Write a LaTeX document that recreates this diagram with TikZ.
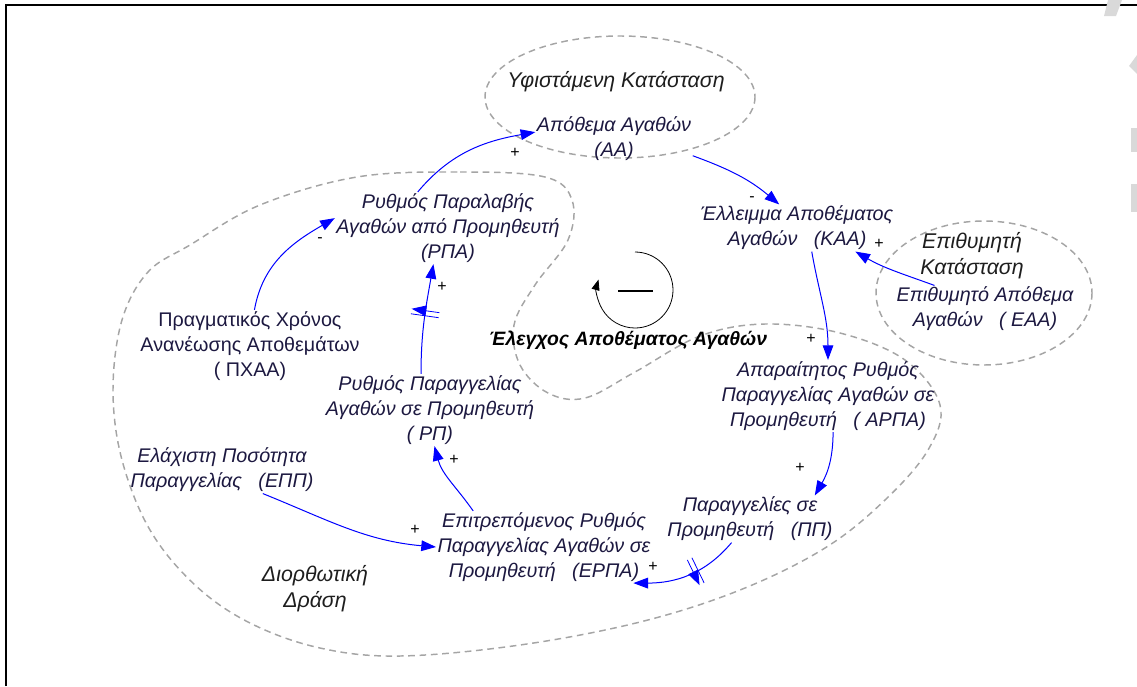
\documentclass[tikz,border=0pt]{standalone}
\usepackage{fontspec}
\setmainfont{Liberation Sans}
\usetikzlibrary{arrows.meta,decorations.markings}

\definecolor{varcol}{RGB}{28,24,64}
\definecolor{grpcol}{RGB}{30,30,30}
\definecolor{areacol}{RGB}{165,165,165}

\begin{document}
\begin{tikzpicture}[
  x=0.75pt, y=-0.75pt,
  var/.style={align=center, inner sep=1pt, text=varcol,
    font=\fontsize{14.8}{18.75}\selectfont\itshape},
  varup/.style={var, font=\fontsize{14.8}{18.75}\selectfont},
  grp/.style={align=center, inner sep=1pt, text=grpcol,
    font=\fontsize{16}{19.5}\selectfont\itshape},
  loopname/.style={grp, text=black, font=\fontsize{14.5}{18}\selectfont\bfseries\itshape},
  area/.style={draw=areacol, line width=1.1pt, dash pattern=on 5pt off 3.5pt},
  link/.style={blue, line width=0.75pt, -{Triangle[length=11pt,width=8pt]}},
  pol/.style={inner sep=0pt, font=\fontsize{12}{12}\selectfont},
  delay/.style={postaction={decorate, decoration={markings,
    mark=at position #1 with {\draw[blue, line width=0.6pt]
      (-1.9pt,-10.5pt) -- (-1.9pt,10.5pt) (1.9pt,-10.5pt) -- (1.9pt,10.5pt);}}}},
]
\useasboundingbox (0,0) rectangle (1137,686);

% frame and screen marks
\draw[line width=2.2pt] (6,686) -- (6,5) -- (1137,5);
\fill[gray!30] (1108,0) -- (1122,0) -- (1116,16) -- (1104,16) -- cycle;
\fill[gray!30] (1137,55) -- (1137,74) -- (1129,66) -- cycle;
\fill[gray!30] (1131,128) rectangle (1137,152);
\fill[gray!30] (1131,184) rectangle (1137,212);

% dashed areas
\draw[area] (620,97) ellipse [x radius=135, y radius=61];
\draw[area] (984,293) ellipse [x radius=108, y radius=72];
\draw[area] plot[smooth cycle, tension=0.6] coordinates {
  (357,177) (460,172) (545,177) (572,200) (568,240) (535,285) (514,325)
  (520,365) (548,393) (585,398) (635,372) (700,336) (765,324) (840,333)
  (905,360) (940,405) (928,450) (885,500) (825,548) (740,590) (640,622)
  (520,645) (400,656) (320,648) (250,623) (195,585) (150,530) (122,460)
  (113,390) (122,320) (148,272) (190,245) (260,205)};

% area names
\node[grp] (current) at (616,82) {Υφιστάμενη Κατάσταση};
\node[grp] (target) at (972,256) {Επιθυμητή\\Κατάσταση};
\node[grp] (action) at (315,589) {Διορθωτική\\Δράση};
\node[loopname] (control) at (628,340) {Έλεγχος Αποθέματος Αγαθών};

% variables
\node[var] (aa) at (614,139) {Απόθεμα Αγαθών\\(ΑΑ)};
\node[var] (kaa) at (797,228) {Έλλειμμα Αποθέματος\\Αγαθών~~~(ΚΑΑ)};
\node[var] (eaa) at (985,309) {Επιθυμητό Απόθεμα\\Αγαθών~~~( ΕΑΑ)};
\node[var] (rpa) at (448,228) {Ρυθμός Παραλαβής\\Αγαθών από Προμηθευτή\\(ΡΠΑ)};
\node[varup] (pxaa) at (250,346) {Πραγματικός Χρόνος\\Ανανέωσης Αποθεμάτων\\( ΠΧΑΑ)};
\node[var] (rp) at (430,410) {Ρυθμός Παραγγελίας\\Αγαθών σε Προμηθευτή\\( ΡΠ)};
\node[var] (arpa) at (828,396) {Απαραίτητος Ρυθμός\\Παραγγελίας Αγαθών σε\\Προμηθευτή~~~( ΑΡΠΑ)};
\node[var] (pp) at (750,519) {Παραγγελίες σε\\Προμηθευτή~~~(ΠΠ)};
\node[var] (erpa) at (544,547) {Επιτρεπόμενος Ρυθμός\\Παραγγελίας Αγαθών σε\\Προμηθευτή~~~(ΕΡΠΑ)};
\node[var] (epp) at (222,470) {Ελάχιστη Ποσότητα\\Παραγγελίας~~~(ΕΠΠ)};

% causal links
\draw[link] (rpa.130) to[out=50, in=190] (aa.175);
\draw[link] (aa.-12) to[out=-20, in=140] (kaa.127);
\draw[link] (eaa.155) to[out=160, in=-30] (kaa.-22);
\draw[link] (kaa.-58) to[out=-80, in=90] (arpa.north);
\draw[link] (arpa.-82) to[out=-90, in=60] (pp.20);
\draw[link, delay=0.42] (pp.-128) to[out=-130, in=0] (erpa.-22);
\draw[link] (erpa.153) to[out=125, in=-75] (rp.-83);
\draw[link] (epp.-30) to[out=-22, in=175] (erpa.180);
\draw[link, delay=0.55] (rp.104) to[out=90, in=-100] (rpa.-112);
\draw[link] (pxaa.83) to[out=80, in=-150] (rpa.175);

% polarities
\foreach \x/\y/\s [count=\k] in {515/153/+, 752/199/-, 879/244/+, 811/339/+,
    800/468/+, 653/567/+, 454/460/+, 415/530/+, 442/287/+, 320/240/-}
  \node[pol] (sign\k) at (\x,\y) {\s};

% loop marker
\coordinate (loopc) at (635,290);
\draw[line width=0.6pt, -{Triangle[length=8pt,width=6pt]}]
  (loopc) ++(0,-38) arc[start angle=-90, end angle=196, radius=38];
\draw[line width=1.5pt] (loopc) ++(-17,1) -- ++(35,0);
\end{tikzpicture}
\end{document}
